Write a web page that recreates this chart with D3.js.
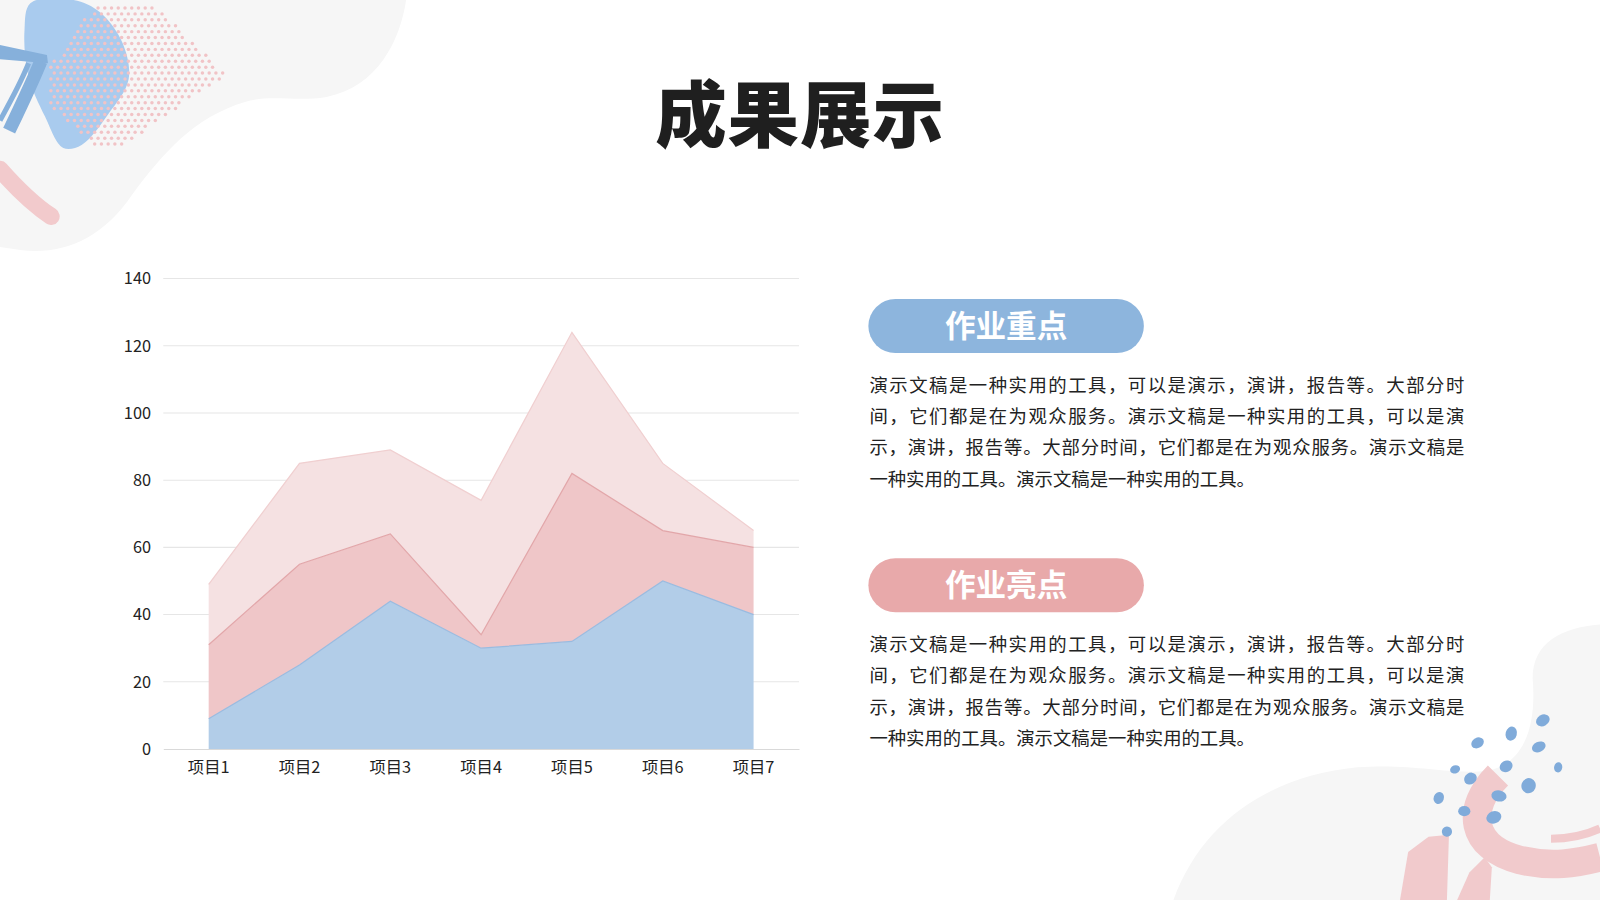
<!DOCTYPE html>
<html>
<head>
<meta charset="utf-8">
<script src="https://cdn.jsdelivr.net/npm/d3@7"></script>
<style>
  html, body { margin: 0; padding: 0; background: #fff; }
  svg { display: block; }
  text { font-family: "Noto Sans CJK SC", "Noto Sans", sans-serif; }
</style>
</head>
<body>
<div id="chart"></div>
<script>
// Données du graphique
const categories = ["项目1", "项目2", "项目3", "项目4", "项目5", "项目6", "项目7"];
const series1 = [9, 25, 44, 30, 32, 50, 40];
const series2 = [22, 30, 20, 4, 50, 15, 20];
const series3 = [18, 30, 25, 40, 42, 20, 5];
const yTicks = [0, 20, 40, 60, 80, 100, 120, 140];

const title = "成果展示";
const cardTitles = ["作业重点", "作业亮点"];
const paragraphLines = [
    "演示文稿是一种实用的工具，可以是演示，演讲，报告等。大部分时",
    "间，它们都是在为观众服务。演示文稿是一种实用的工具，可以是演",
    "示，演讲，报告等。大部分时间，它们都是在为观众服务。演示文稿是",
    "一种实用的工具。演示文稿是一种实用的工具。"
];

// Crée le svg
const W = 1568, H = 882;
const svg = d3.select("#chart")
    .append("svg")
    .attr("width", 1600)
    .attr("height", 900)
    .attr("viewBox", `0 0 ${W} ${H}`);

// Décor en haut à gauche
const deco = svg.append("g");
deco.append("path")
    .attr("fill", "#f6f6f6")
    .attr("d", "M0,0 L398,0 C392,40 370,85 320,95 C290,100 265,92 240,100 C190,115 160,150 130,190 C100,235 60,250 20,245 L0,242 Z");

const curve = d3.line().curve(d3.curveCatmullRomClosed.alpha(0.5));
deco.append("path")
    .attr("fill", "#a9cbee")
    .attr("d", curve([[30,3],[72,0],[98,12],[120,42],[126,78],[106,112],[80,142],[62,145],[44,114],[28,75],[24,30]]));

// Points roses
const dotZone = [[48,68],[72,30],[95,4],[150,4],[222,73],[165,112],[115,146],[92,142],[48,102]];
const dots = [];
for (let j = 0; j < 26; j++) {
    for (let i = 0; i < 36; i++) {
        const x = 40 + i * 6.6 + (j % 2) * 3.3;
        const y = 2 + j * 5.8;
        if (d3.polygonContains(dotZone, [x, y])) dots.push([x, y]);
    }
}
deco.append("g").selectAll("circle")
    .data(dots)
    .enter()
    .append("circle")
    .attr("cx", d => d[0])
    .attr("cy", d => d[1])
    .attr("r", 1.7)
    .attr("fill", "#f1c3c6");

// Coups de pinceau
deco.append("path")
    .attr("fill", "#86b0db")
    .attr("d", "M0,44 L46,54 L47,62 L0,58 Z");
deco.append("path")
    .attr("fill", "none")
    .attr("stroke", "#86b0db")
    .attr("stroke-width", 13)
    .attr("d", "M40,60 C32,80 20,105 9,128");
deco.append("path")
    .attr("fill", "none")
    .attr("stroke", "#86b0db")
    .attr("stroke-width", 5)
    .attr("d", "M28,62 C20,82 10,100 0,118");
deco.append("path")
    .attr("fill", "none")
    .attr("stroke", "#f2cacc")
    .attr("stroke-width", 17)
    .attr("stroke-linecap", "round")
    .attr("d", "M0,166 C15,183 32,200 50,212");

// Décor en bas à droite
const deco2 = svg.append("g");
deco2.append("path")
    .attr("fill", "#f6f6f6")
    .attr("d", "M1150,882 C1180,800 1250,760 1330,752 C1390,748 1420,760 1460,755 C1500,745 1505,700 1502,665 C1502,630 1530,615 1568,612 L1568,882 Z");
const brush = "#f1cacc";
deco2.append("path")
    .attr("fill", "none")
    .attr("stroke", brush)
    .attr("stroke-width", 28)
    .attr("d", "M1468,760 C1436,792 1440,830 1490,843 C1520,850 1545,846 1568,840");
deco2.append("path")
    .attr("fill", "none")
    .attr("stroke", brush)
    .attr("stroke-width", 8)
    .attr("d", "M1520,822 C1540,822 1555,818 1568,812");
deco2.append("path")
    .attr("fill", brush)
    .attr("d", "M1372,882 L1380,835 L1400,820 L1420,818 L1418,882 Z");
deco2.append("path")
    .attr("fill", brush)
    .attr("d", "M1428,882 L1440,855 L1455,840 L1462,850 L1460,882 Z");

const drops = [[1512,706,7,5.5,-30],[1481,719,5.5,7,15],[1448,728,6.5,5,-30],[1508,732,7,5,-25],
    [1476,751,6.5,5.5,-30],[1426,754,5,4,-20],[1441,763,6.5,5.5,-35],[1527,752,4,5,10],
    [1498,770,7,7.5,20],[1469,780,7.5,5.5,10],[1410,782,5,6,20],[1435,795,6,5,0],
    [1464,801,7.5,6,-20],[1418,815,5,5,-30]];
deco2.append("g").selectAll("ellipse")
    .data(drops)
    .enter()
    .append("ellipse")
    .attr("transform", d => `translate(${d[0]},${d[1]}) rotate(${d[4]})`)
    .attr("rx", d => d[2])
    .attr("ry", d => d[3])
    .attr("fill", "#80abda");

// Titre
svg.append("text")
    .attr("x", 784)
    .attr("y", 138)
    .attr("text-anchor", "middle")
    .attr("font-size", 70)
    .attr("font-weight", 900)
    .attr("fill", "#1f1f1f")
    .attr("letter-spacing", 1)
    .text(title);

// Graphique en aires empilées
const x = d3.scaleBand().domain(categories).range([160, 783]);
const y = d3.scaleLinear().domain([0, 140]).range([734, 273]);

const rows = categories.map((c, i) => ({ cat: c, a: series1[i], b: series2[i], c: series3[i] }));
const stacked = d3.stack().keys(["a", "b", "c"])(rows);

const chart = svg.append("g");

chart.append("g")
    .selectAll("line")
    .data(yTicks.filter(t => t > 0))
    .enter()
    .append("line")
    .attr("x1", 160)
    .attr("x2", 783)
    .attr("y1", d => y(d))
    .attr("y2", d => y(d))
    .attr("stroke", "#e6e6e6")
    .attr("stroke-width", 1);

const fills = ["#b2cde8", "#efc6c8", "#f5e1e2"];
const strokes = ["#99bbe0", "#e2a6a9", "#f0cfd0"];
const area = d3.area()
    .x(d => x(d.data.cat) + x.bandwidth() / 2)
    .y0(d => y(d[0]))
    .y1(d => y(d[1]));
const topLine = d3.line()
    .x(d => x(d.data.cat) + x.bandwidth() / 2)
    .y(d => y(d[1]));

chart.append("g")
    .selectAll("path")
    .data(stacked)
    .enter()
    .append("path")
    .attr("fill", (d, i) => fills[i])
    .attr("d", area);

chart.append("g")
    .selectAll("path")
    .data(stacked)
    .enter()
    .append("path")
    .attr("fill", "none")
    .attr("stroke", (d, i) => strokes[i])
    .attr("stroke-width", 1.2)
    .attr("d", topLine);

// Axes
const xAxis = chart.append("g")
    .attr("transform", `translate(0,${y(0)})`)
    .call(d3.axisBottom(x).tickSize(0).tickPadding(12));
xAxis.select(".domain").attr("stroke", "#d9d9d9");
xAxis.selectAll("text").attr("font-size", 16).attr("fill", "#222")
    .style("font-family", "'Noto Sans CJK SC', sans-serif");

const yAxis = chart.append("g")
    .attr("transform", "translate(160,0)")
    .call(d3.axisLeft(y).tickValues(yTicks).tickSize(0).tickPadding(12));
yAxis.select(".domain").remove();
yAxis.selectAll("text").attr("font-size", 16).attr("fill", "#222")
    .style("font-family", "'Noto Sans CJK SC', sans-serif");

// Cartes de texte à droite
const cardY = [293, 547];
const cardColors = ["#8db5dd", "#e8a9aa"];
cardY.forEach((cy, k) => {
    svg.append("rect")
        .attr("x", 851)
        .attr("y", cy)
        .attr("width", 270)
        .attr("height", 53)
        .attr("rx", 26.5)
        .attr("fill", cardColors[k]);
    svg.append("text")
        .attr("x", 986)
        .attr("y", cy + 37)
        .attr("text-anchor", "middle")
        .attr("font-size", 30)
        .attr("font-weight", 700)
        .attr("fill", "#fff")
        .text(cardTitles[k]);
    svg.append("g")
        .selectAll("text")
        .data(paragraphLines)
        .enter()
        .append("text")
        .attr("x", 852)
        .attr("y", (d, i) => cy + 91 + i * 30.7)
        .attr("font-size", 18)
        .attr("fill", "#222")
        .attr("textLength", (d, i) => i < 3 ? 583 : null)
        .attr("lengthAdjust", "spacing")
        .text(d => d);
});
</script>
</body>
</html>
